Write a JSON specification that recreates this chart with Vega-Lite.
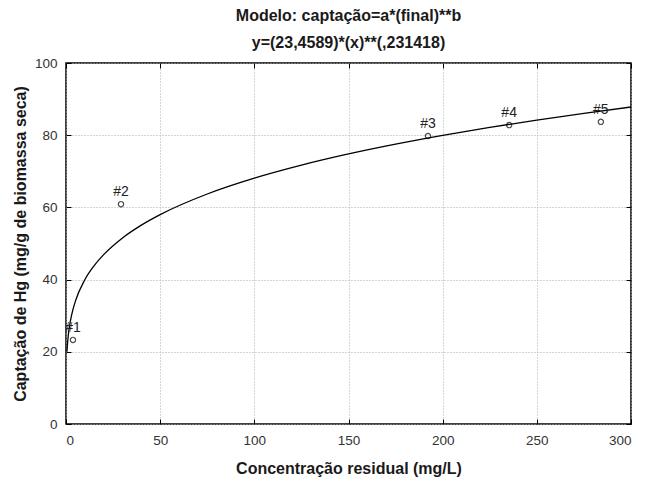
{
  "$schema": "https://vega.github.io/schema/vega-lite/v6.json",
  "autosize": "none",
  "width": 565,
  "height": 361,
  "padding": {"left": 66, "top": 63, "right": 14, "bottom": 56},
  "background": "white",
  "config": {
    "font": "Liberation Sans",
    "view": {"stroke": "black", "strokeWidth": 1.5}
  },
  "title": {
    "text": ["Modelo: captação=a*(final)**b", "y=(23,4589)*(x)**(,231418)"],
    "fontSize": 16,
    "fontWeight": "bold",
    "color": "#1a1a1a",
    "lineHeight": 27,
    "offset": 5,
    "anchor": "middle",
    "frame": "group"
  },
  "datasets": {
    "points": [
      {"x": 3.7, "y": 23.3, "label": "#1"},
      {"x": 29.2, "y": 60.9, "label": "#2"},
      {"x": 192.2, "y": 79.8, "label": "#3"},
      {"x": 235.3, "y": 82.8, "label": "#4"},
      {"x": 284.0, "y": 83.7, "label": "#5"}
    ],
    "curve": [
      {"x": 0.5, "y": 20.0},
      {"x": 1, "y": 23.46},
      {"x": 2, "y": 27.54},
      {"x": 3, "y": 30.25},
      {"x": 5, "y": 34.05},
      {"x": 10, "y": 39.97},
      {"x": 15, "y": 43.9},
      {"x": 20, "y": 46.92},
      {"x": 30, "y": 51.54},
      {"x": 40, "y": 55.09},
      {"x": 50, "y": 58.01},
      {"x": 75, "y": 63.71},
      {"x": 100, "y": 68.1},
      {"x": 125, "y": 71.71},
      {"x": 150, "y": 74.8},
      {"x": 175, "y": 77.51},
      {"x": 200, "y": 79.95},
      {"x": 225, "y": 82.16},
      {"x": 250, "y": 84.19},
      {"x": 275, "y": 86.06},
      {"x": 300, "y": 87.82}
    ]
  },
  "resolve": {"axis": {"x": "independent", "y": "independent"}},
  "layer": [
    {
      "data": {"name": "curve"},
      "mark": {"type": "line", "color": "black", "strokeWidth": 1.3, "interpolate": "monotone", "clip": true},
      "encoding": {
        "x": {
          "field": "x", "type": "quantitative",
          "scale": {"domain": [0, 300], "nice": false, "zero": false},
          "axis": {
            "title": "Concentração residual (mg/L)",
            "titleFontSize": 16, "titleFontWeight": "bold", "titleColor": "#1a1a1a",
            "titlePadding": 14,
            "values": [0, 50, 100, 150, 200, 250, 300],
            "labelFontSize": 13.5, "labelColor": "#333", "labelPadding": 14,
            "tickSize": -5, "tickColor": "black",
            "domain": false,
            "grid": true, "gridDash": [1, 2], "gridColor": "#aaa", "gridWidth": 1
          }
        },
        "y": {
          "field": "y", "type": "quantitative",
          "scale": {"domain": [0, 100], "nice": false, "zero": false},
          "axis": {
            "title": "Captação de Hg (mg/g de biomassa seca)",
            "titleFontSize": 16, "titleFontWeight": "bold", "titleColor": "#1a1a1a",
            "titlePadding": 6,
            "values": [0, 20, 40, 60, 80, 100],
            "labelFontSize": 13.5, "labelColor": "#333", "labelPadding": 14,
            "tickSize": -5, "tickColor": "black",
            "domain": false,
            "grid": true, "gridDash": [1, 2], "gridColor": "#aaa", "gridWidth": 1
          }
        }
      }
    },
    {
      "data": {"name": "points"},
      "mark": {"type": "point", "shape": "circle", "filled": false, "color": "black", "size": 28, "strokeWidth": 1.2},
      "encoding": {
        "x": {
          "field": "x", "type": "quantitative",
          "axis": {"orient": "top", "title": null, "labels": false, "values": [0, 50, 100, 150, 200, 250, 300], "tickSize": -5, "tickColor": "black", "domain": false, "grid": false}
        },
        "y": {
          "field": "y", "type": "quantitative",
          "axis": {"orient": "right", "title": null, "labels": false, "values": [0, 20, 40, 60, 80, 100], "tickSize": -5, "tickColor": "black", "domain": false, "grid": false}
        }
      }
    },
    {
      "data": {"name": "points"},
      "mark": {"type": "text", "dy": -12, "fontSize": 14, "color": "#222", "clip": true},
      "encoding": {
        "x": {"field": "x", "type": "quantitative", "axis": null},
        "y": {"field": "y", "type": "quantitative", "axis": null},
        "text": {"field": "label"}
      }
    }
  ]
}
